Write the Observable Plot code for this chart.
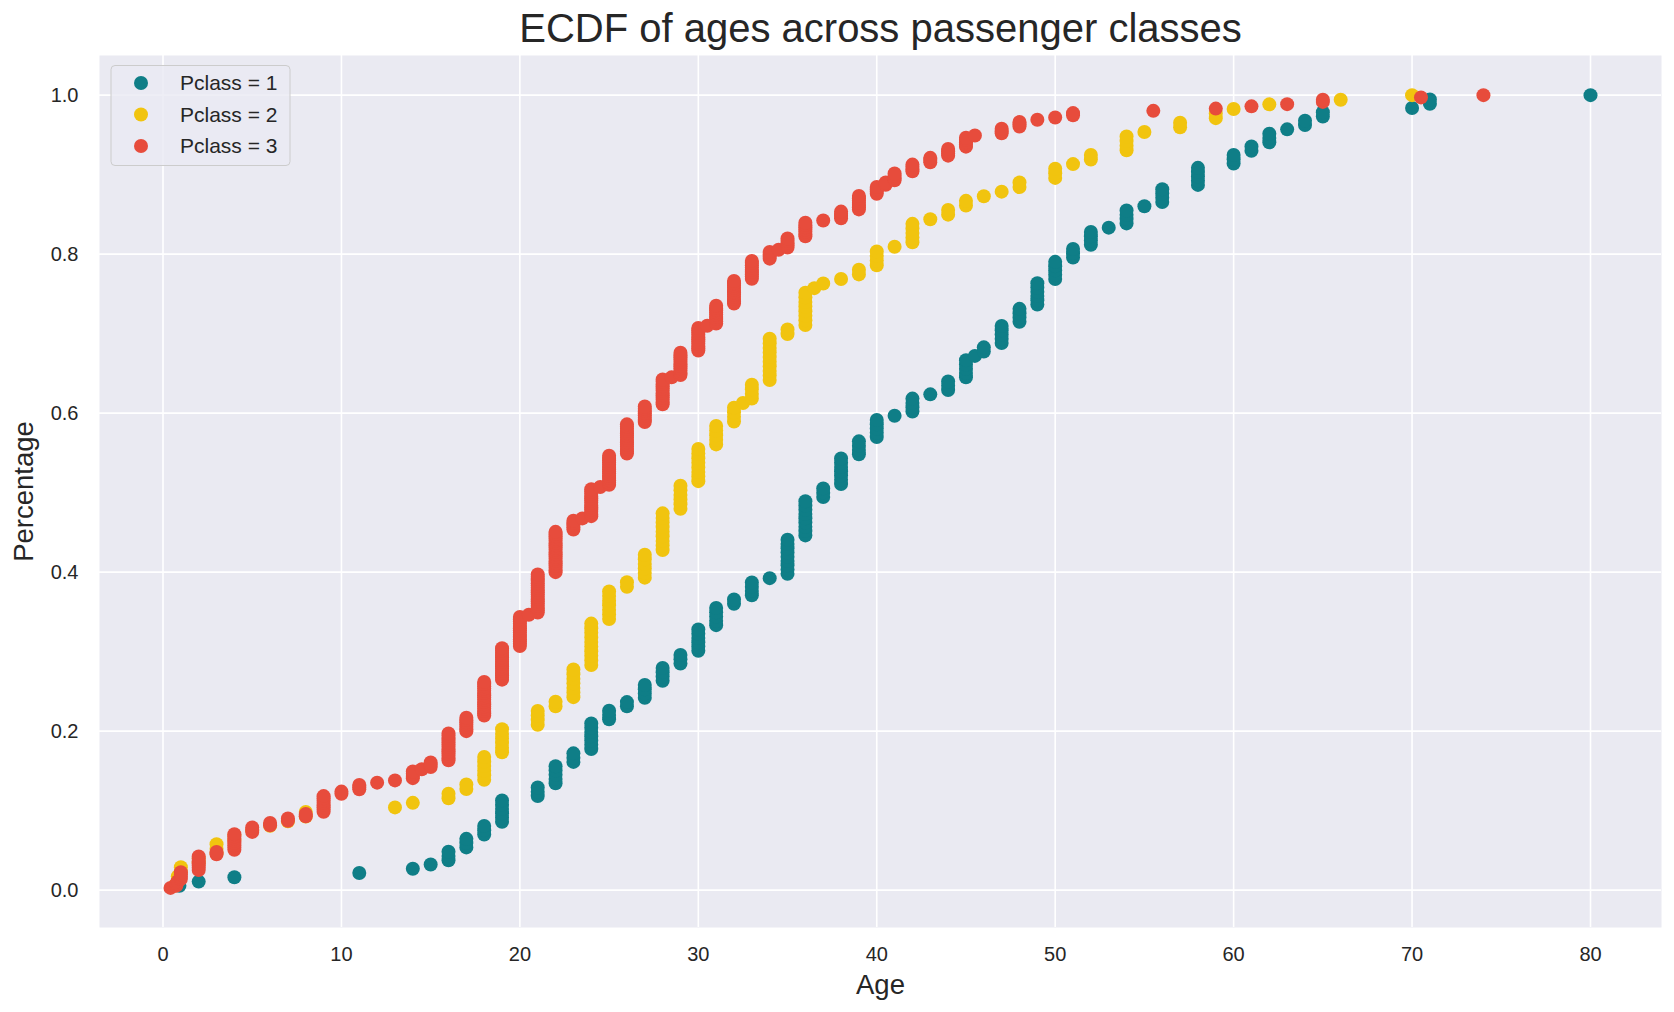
<!DOCTYPE html>
<html>
<head>
<meta charset="utf-8">
<script src="https://cdn.jsdelivr.net/npm/d3@7"></script>
<script src="https://cdn.jsdelivr.net/npm/@observablehq/plot@0.6"></script>
<style>
html, body { margin: 0; padding: 0; background: #ffffff; }
#chart { width: 1674px; height: 1012px; }
</style>
</head>
<body>
<div id="chart"></div>
<script>
// ---- texts ----
const title = "ECDF of ages across passenger classes";
const xLabel = "Age";
const yLabel = "Percentage";
const classes = ["Pclass = 1", "Pclass = 2", "Pclass = 3"];
const colors = ["#0f7e87", "#f1c40f", "#e74c3c"];
const xTicks = [0, 10, 20, 30, 40, 50, 60, 70, 80];
const yTicks = [0, 0.2, 0.4, 0.6, 0.8, 1.0];

// ---- data: distinct ages and number of passengers at each age ----
const ages1 = [0.92, 2, 4, 11, 14, 15, 16, 17, 18, 19, 21, 22, 23, 24, 25, 26, 27, 28, 29, 30, 31, 32, 33, 34, 35, 36, 37, 38, 39, 40, 41, 42, 43, 44, 45, 45.5, 46, 47, 48, 49, 50, 51, 52, 53, 54, 55, 56, 58, 60, 61, 62, 63, 64, 65, 70, 71, 80];
const counts1 = [1, 1, 1, 1, 1, 1, 3, 3, 3, 6, 3, 5, 3, 7, 3, 2, 4, 4, 3, 6, 5, 2, 4, 1, 9, 9, 3, 7, 4, 5, 1, 4, 1, 3, 5, 1, 2, 5, 4, 6, 5, 3, 4, 1, 4, 1, 4, 5, 3, 2, 3, 1, 2, 2, 1, 2, 1];

const ages2 = [0.67, 0.83, 1, 2, 3, 4, 5, 6, 7, 8, 13, 14, 16, 17, 18, 19, 21, 22, 23, 24, 25, 26, 27, 28, 29, 30, 31, 32, 32.5, 33, 34, 35, 36, 36.5, 37, 38, 39, 40, 41, 42, 43, 44, 45, 46, 47, 48, 50, 51, 52, 54, 55, 57, 59, 60, 62, 66, 70];
const counts2 = [1, 2, 2, 2, 3, 2, 1, 1, 1, 2, 1, 1, 2, 2, 6, 6, 4, 2, 7, 10, 7, 2, 6, 9, 6, 8, 5, 4, 1, 4, 10, 2, 8, 1, 1, 1, 2, 4, 1, 5, 1, 2, 2, 1, 1, 2, 3, 1, 2, 4, 1, 2, 2, 1, 1, 1, 1];

const ages3 = [0.42, 0.75, 0.83, 1, 2, 3, 4, 5, 6, 7, 8, 9, 10, 11, 12, 13, 14, 14.5, 15, 16, 17, 18, 19, 20, 20.5, 21, 22, 23, 23.5, 24, 24.5, 25, 26, 27, 28, 28.5, 29, 30, 30.5, 31, 32, 33, 34, 34.5, 35, 36, 37, 38, 39, 40, 40.5, 41, 42, 43, 44, 45, 45.5, 47, 48, 49, 50, 51, 55.5, 59, 61, 63, 65, 70.5, 74];
const counts3 = [1, 2, 1, 4, 7, 2, 8, 3, 2, 2, 2, 8, 2, 3, 1, 1, 4, 1, 3, 13, 7, 16, 15, 14, 1, 18, 19, 5, 1, 13, 1, 14, 14, 8, 12, 1, 11, 11, 1, 9, 11, 9, 4, 1, 5, 7, 1, 4, 7, 4, 2, 4, 4, 3, 4, 5, 1, 3, 3, 1, 1, 2, 1, 1, 1, 1, 2, 1, 1];

// ---- ECDF table: one point per passenger, y = rank / n ----
const series = [[ages1, counts1], [ages2, counts2], [ages3, counts3]];
const points = [];
series.forEach(([ages, counts], k) => {
  const n = d3.sum(counts);
  let rank = 0;
  ages.forEach((a, i) => {
    for (let j = 0; j < counts[i]; j++) {
      rank++;
      points.push({age: a, ecdf: rank / n, cls: classes[k]});
    }
  });
});

const font = "'Liberation Sans', Arial, Helvetica, sans-serif";
const ink = "#262626";

const plot = Plot.plot({
  width: 1674,
  height: 1012,
  marginLeft: 99,
  marginRight: 13,
  marginTop: 55,
  marginBottom: 85,
  style: {fontFamily: font, fontSize: "20px", color: ink, background: "#ffffff"},
  x: {domain: [-3.559, 83.979], label: null},
  y: {domain: [-0.047, 1.0499], label: null},
  color: {domain: classes, range: colors},
  marks: [
    Plot.frame({fill: "#eaeaf2", stroke: "none"}),
    Plot.gridX(xTicks, {stroke: "#ffffff", strokeOpacity: 1, strokeWidth: 1.6}),
    Plot.gridY(yTicks, {stroke: "#ffffff", strokeOpacity: 1, strokeWidth: 1.6}),
    Plot.axisX(xTicks, {tickSize: 0, tickPadding: 19, fontSize: 20, label: null, fill: ink}),
    Plot.axisY(yTicks, {tickSize: 0, tickPadding: 21, fontSize: 20, label: null, tickFormat: d3.format(".1f"), fill: ink}),
    Plot.dot(points, {x: "age", y: "ecdf", fill: "cls", r: 7, stroke: "none"}),
    Plot.text([title], {text: d => d, frameAnchor: "top", lineAnchor: "middle", textAnchor: "middle", dy: -26, fontSize: 40, fill: ink}),
    Plot.text([xLabel], {text: d => d, frameAnchor: "bottom", lineAnchor: "middle", textAnchor: "middle", dy: 58, fontSize: 27.5, fill: ink}),
    Plot.text([yLabel], {text: d => d, frameAnchor: "left", lineAnchor: "middle", textAnchor: "middle", dx: -75, rotate: -90, fontSize: 27.5, fill: ink})
  ]
});

// ---- legend (upper left, inside the axes) ----
const colorScale = plot.scale("color");
const svg = d3.select(plot);
const lg = svg.append("g").attr("font-family", font).attr("text-anchor", "start");
lg.append("rect")
  .attr("x", 111).attr("y", 65.5).attr("width", 179).attr("height", 100)
  .attr("rx", 4).attr("fill", "#eaeaf2").attr("fill-opacity", 0.8)
  .attr("stroke", "#cccccc").attr("stroke-width", 1);
classes.forEach((c, i) => {
  const cy = 83 + i * 31.5;
  lg.append("circle").attr("cx", 141).attr("cy", cy).attr("r", 7).attr("fill", colorScale.apply(c));
  lg.append("text").attr("x", 180).attr("y", cy).attr("dy", "0.35em")
    .attr("text-anchor", "start").attr("font-size", 21).attr("fill", ink).text(c);
});

document.getElementById("chart").appendChild(plot);
</script>
</body>
</html>
